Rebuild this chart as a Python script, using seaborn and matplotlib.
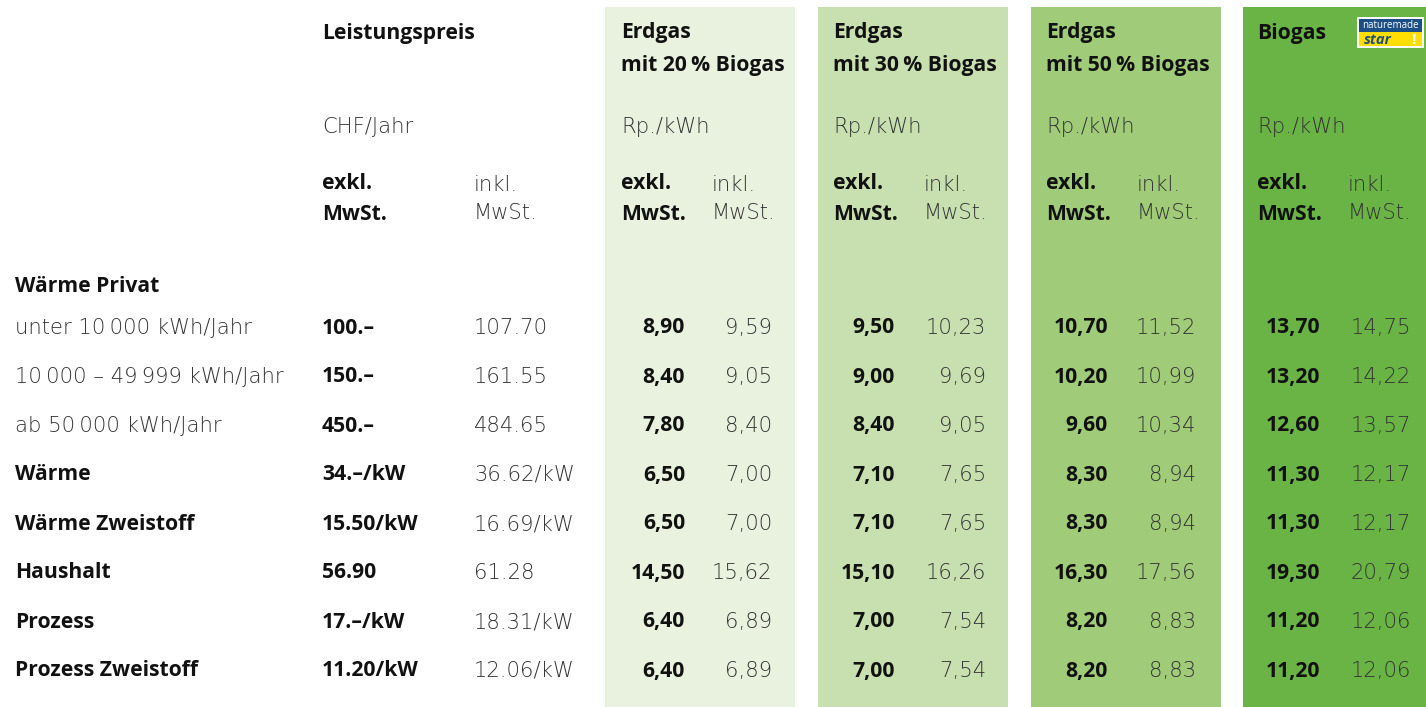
import matplotlib
matplotlib.use("Agg")
import matplotlib.pyplot as plt
import seaborn as sns
from matplotlib.patches import Rectangle

sns.set_theme(style="white")
plt.rcParams['font.family'] = ['Open Sans', 'DejaVu Sans']

# tarif data
row_labels = ["unter 10\u2009000 kWh/Jahr", "10\u2009000 \u2013 49\u2009999 kWh/Jahr", "ab 50\u2009000 kWh/Jahr",
              "Wärme", "Wärme Zweistoff", "Haushalt", "Prozess", "Prozess Zweistoff"]
row_bold = [False, False, False, True, True, True, True, True]
leistung_exkl = ["100.\u2013", "150.\u2013", "450.\u2013", "34.\u2013/kW", "15.50/kW", "56.90", "17.\u2013/kW", "11.20/kW"]
leistung_inkl = ["107.70", "161.55", "484.65", "36.62/kW", "16.69/kW", "61.28", "18.31/kW", "12.06/kW"]

gas_titles = ["Erdgas\nmit 20\u2009% Biogas", "Erdgas\nmit 30\u2009% Biogas", "Erdgas\nmit 50\u2009% Biogas", "Biogas"]
erdgas20_exkl = [8.90, 8.40, 7.80, 6.50, 6.50, 14.50, 6.40, 6.40]
erdgas20_inkl = [9.59, 9.05, 8.40, 7.00, 7.00, 15.62, 6.89, 6.89]
erdgas30_exkl = [9.50, 9.00, 8.40, 7.10, 7.10, 15.10, 7.00, 7.00]
erdgas30_inkl = [10.23, 9.69, 9.05, 7.65, 7.65, 16.26, 7.54, 7.54]
erdgas50_exkl = [10.70, 10.20, 9.60, 8.30, 8.30, 16.30, 8.20, 8.20]
erdgas50_inkl = [11.52, 10.99, 10.34, 8.94, 8.94, 17.56, 8.83, 8.83]
biogas_exkl = [13.70, 13.20, 12.60, 11.30, 11.30, 19.30, 11.20, 11.20]
biogas_inkl = [14.75, 14.22, 13.57, 12.17, 12.17, 20.79, 12.06, 12.06]

gas_exkl = [erdgas20_exkl, erdgas30_exkl, erdgas50_exkl, biogas_exkl]
gas_inkl = [erdgas20_inkl, erdgas30_inkl, erdgas50_inkl, biogas_inkl]

# layout (pixel coords)
W, H = 1426, 707
col_left = [605, 818, 1031, 1243]
col_width = [190, 190, 190, 183]
col_colors = ["#e8f2df", "#c8e0b0", "#a0cb78", "#6ab445"]
exkl_right = [685, 895, 1108, 1320]
inkl_right = [772, 986, 1196, 1411]
head_left = [621, 833, 1046, 1257]

dark = "#111111"
grey = "#333333"
fs = 15.2

fig = plt.figure(figsize=(W / 100, H / 100), dpi=100)
ax = fig.add_axes([0, 0, 1, 1])
ax.set_xlim(0, W)
ax.set_ylim(H, 0)
ax.axis("off")

for x, w, c in zip(col_left, col_width, col_colors):
    ax.add_patch(Rectangle((x, 7), w, H - 7, color=c, lw=0, zorder=0))

def bold(x, y, s, ha="left", ls=1.6):
    ax.text(x, y + 2, s, ha=ha, va="center", fontsize=fs, fontweight="bold", color=dark, linespacing=ls)

def light(x, y, s, ha="left", ls=1.45):
    ax.text(x, y + 2, s, ha=ha, va="center", fontsize=fs, fontweight="light", color=grey,
            family=["DejaVu Sans"], linespacing=ls)

# header
bold(322, 31, "Leistungspreis")
light(322, 125, "CHF/Jahr")
bold(322, 197, "exkl.\nMwSt.")
light(474, 197, "inkl.\nMwSt.")
for i in range(4):
    if i < 3:
        bold(head_left[i], 47, gas_titles[i], ls=1.78)
    else:
        bold(head_left[i], 31, gas_titles[i])
    light(head_left[i], 125, "Rp./kWh")
    bold(head_left[i], 197, "exkl.\nMwSt.")
    light(head_left[i] + 91, 197, "inkl.\nMwSt.")

# naturemade star logo
ax.add_patch(Rectangle((1357, 17), 67, 31, facecolor="white", lw=0, zorder=2))
ax.add_patch(Rectangle((1359, 19), 63, 13, facecolor="#1b4f86", lw=0, zorder=3))
ax.add_patch(Rectangle((1359, 32), 63, 14, facecolor="#ffde00", lw=0, zorder=3))
ax.text(1390.5, 25.5, "naturemade", ha="center", va="center", fontsize=7, color="white", zorder=4)
ax.text(1364, 39.5, "star", ha="left", va="center", fontsize=10.5, fontweight="bold",
        style="italic", color="#1b4f86", zorder=4)
ax.text(1413, 39.5, "!", ha="center", va="center", fontsize=11, fontweight="bold", color="white", zorder=4)

# body
bold(15, 285, "Wärme Privat")
for r in range(len(row_labels)):
    y = 326 + 49 * r
    if row_bold[r]:
        bold(15, y, row_labels[r])
    else:
        light(15, y, row_labels[r])
    bold(322, y, leistung_exkl[r])
    light(474, y, leistung_inkl[r])
    for i in range(4):
        bold(exkl_right[i], y, f"{gas_exkl[i][r]:.2f}".replace(".", ","), ha="right")
        light(inkl_right[i], y, f"{gas_inkl[i][r]:.2f}".replace(".", ","), ha="right")

fig.savefig("out.png", dpi=100, facecolor="white")
